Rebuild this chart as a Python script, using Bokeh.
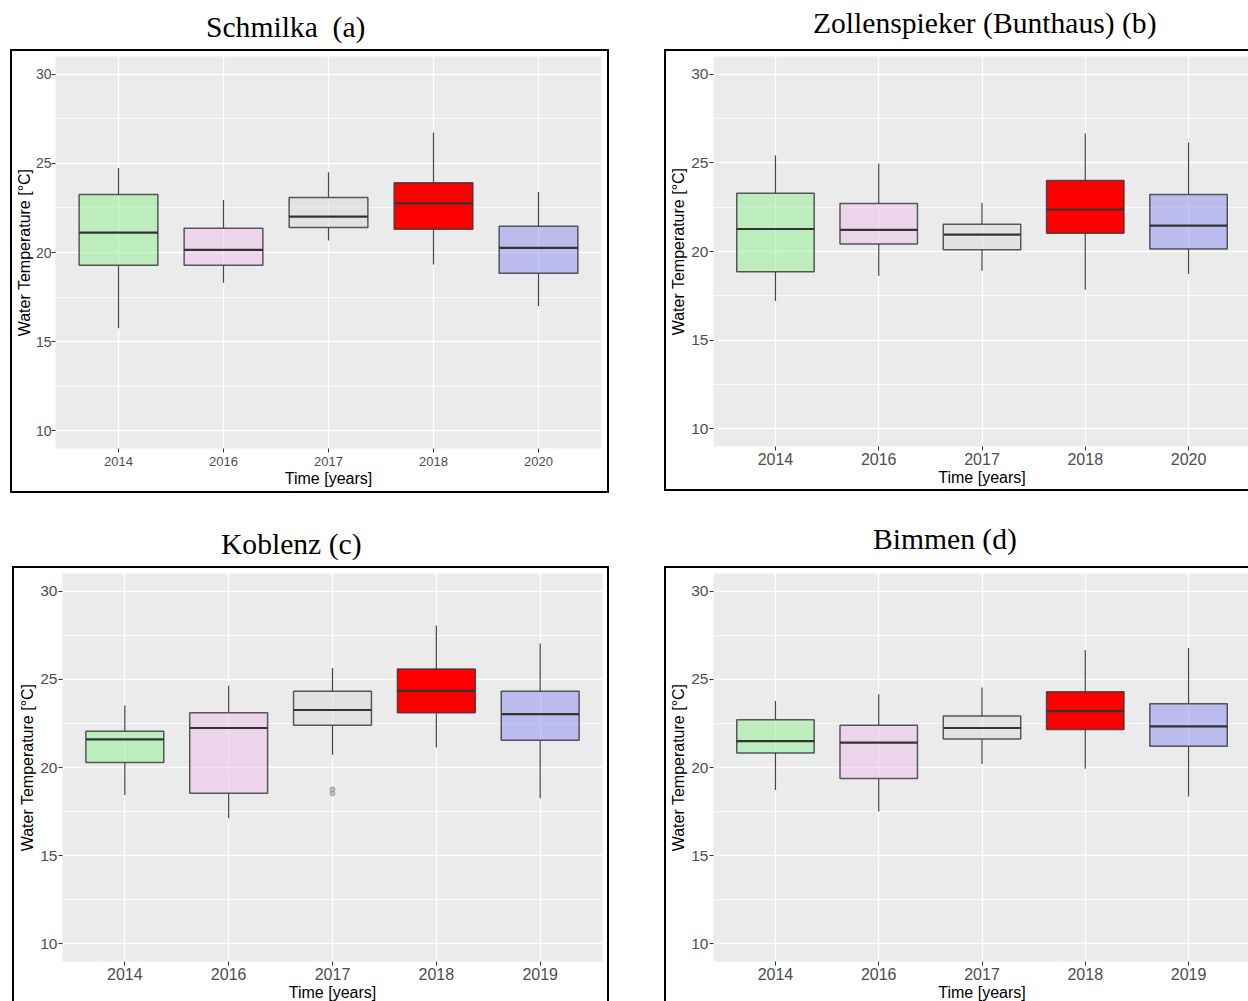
from bokeh.plotting import figure
from bokeh.layouts import column, row
from bokeh.models import Div, Spacer, FactorRange, Range1d, FixedTicker, ColumnDataSource
from bokeh.transform import dodge
from bokeh.embed import file_html
from bokeh.resources import INLINE

# ---------------- data ----------------
titles = ["Schmilka  (a)", "Zollenspieker (Bunthaus) (b)", "Koblenz (c)", "Bimmen (d)"]

a_years = ["2014", "2016", "2017", "2018", "2020"]
a_lower = [15.75, 18.30, 20.67, 19.33, 17.00]
a_q1 = [19.29, 19.29, 21.40, 21.31, 18.84]
a_med = [21.12, 20.15, 22.01, 22.76, 20.26]
a_q3 = [23.25, 21.36, 23.08, 23.92, 21.47]
a_upper = [24.74, 22.95, 24.51, 26.74, 23.40]

b_years = ["2014", "2016", "2017", "2018", "2020"]
b_lower = [17.21, 18.63, 18.91, 17.84, 18.73]
b_q1 = [18.86, 20.42, 20.10, 21.03, 20.14]
b_med = [21.27, 21.22, 20.95, 22.37, 21.46]
b_q3 = [23.28, 22.71, 21.54, 24.01, 23.22]
b_upper = [25.41, 24.96, 22.75, 26.66, 26.15]

c_years = ["2014", "2016", "2017", "2018", "2019"]
c_lower = [18.44, 17.12, 20.73, 21.14, 18.25]
c_q1 = [20.29, 18.54, 22.39, 23.11, 21.54]
c_med = [21.60, 22.24, 23.26, 24.35, 23.03]
c_q3 = [22.05, 23.11, 24.33, 25.58, 24.33]
c_upper = [23.52, 24.64, 25.64, 28.05, 27.03]
c_out_years = ["2017", "2017"]
c_out_vals = [18.53, 18.76]

d_years = ["2014", "2016", "2017", "2018", "2019"]
d_lower = [18.73, 17.50, 20.20, 19.93, 18.35]
d_q1 = [20.82, 19.37, 21.61, 22.16, 21.20]
d_med = [21.50, 21.41, 22.24, 23.20, 22.33]
d_q3 = [22.71, 22.39, 22.92, 24.30, 23.62]
d_upper = [23.77, 24.16, 24.54, 26.66, 26.77]

y_ticks = [10, 15, 20, 25, 30]
y_minor = [12.5, 17.5, 22.5, 27.5]

# ---------------- styles ----------------
box_colors = ["#90EE90", "#EDBFEB", "#D9D9D9", "#FF0000", "#8C8CF0"]
box_alphas = [0.5, 0.5, 0.5, 1.0, 0.5]
SANS = "Liberation Sans"
SERIF = "Liberation Serif"


def make_panel(years, lower, q1, med, q3, upper, w, h, mb, border, xfs, yfs,
               ylab_standoff, xlab_standoff, out_x=None, out_y=None):
    p = figure(width=w, height=h,
               x_range=FactorRange(factors=years, range_padding=0.1,
                                   range_padding_units="absolute"),
               y_range=Range1d(9, 31),
               output_backend="svg", toolbar_location=None,
               min_border_left=mb[0], min_border_right=mb[1],
               min_border_top=mb[2], min_border_bottom=mb[3])
    p.styles = border
    p.background_fill_color = "#EBEBEB"
    p.border_fill_color = "white"
    p.outline_line_color = None

    p.yaxis.ticker = FixedTicker(ticks=y_ticks, minor_ticks=y_minor)
    p.ygrid.ticker = FixedTicker(ticks=y_ticks, minor_ticks=y_minor)
    for g in (p.xgrid, p.ygrid):
        g.grid_line_color = "white"
        g.grid_line_width = 1.3
    p.ygrid.minor_grid_line_color = "white"
    p.ygrid.minor_grid_line_width = 0.7

    for ax in (p.xaxis, p.yaxis):
        ax.axis_line_color = None
        ax.major_tick_line_color = "#333333"
        ax.major_tick_in = 0
        ax.major_tick_out = 4
        ax.minor_tick_line_color = None
        ax.major_label_text_color = "#4D4D4D"
        ax.major_label_text_font = SANS
        ax.axis_label_text_font = SANS
        ax.axis_label_text_font_style = "normal"
        ax.axis_label_text_color = "black"
        ax.axis_label_text_font_size = "16px"
    p.xaxis.major_label_text_font_size = xfs
    p.yaxis.major_label_text_font_size = yfs
    p.xaxis.major_label_standoff = xlab_standoff
    p.yaxis.major_label_standoff = ylab_standoff
    p.xaxis.axis_label_standoff = 1
    p.yaxis.axis_label_standoff = ylab_standoff
    p.xaxis.axis_label = "Time [years]"
    p.yaxis.axis_label = "Water Temperature [°C]"

    src = ColumnDataSource(dict(years=years, lower=lower, q1=q1, med=med, q3=q3,
                                upper=upper, color=box_colors[:len(years)],
                                alpha=box_alphas[:len(years)]))
    p.segment(x0="years", y0="q3", x1="years", y1="upper", source=src,
              line_color="#333333", line_alpha=0.9, line_width=1.2)
    p.segment(x0="years", y0="lower", x1="years", y1="q1", source=src,
              line_color="#333333", line_alpha=0.9, line_width=1.2)
    p.vbar(x="years", top="q3", bottom="q1", width=0.75, source=src,
           fill_color="color", fill_alpha="alpha",
           line_color="#333333", line_alpha=0.8, line_width=1.5)
    p.segment(x0=dodge("years", -0.375, range=p.x_range), y0="med",
              x1=dodge("years", 0.375, range=p.x_range), y1="med", source=src,
              line_color="#333333", line_width=2.2)
    if out_x is not None:
        p.scatter(x=out_x, y=out_y, size=5, fill_color="#888888", fill_alpha=0.5,
                  line_color="#888888", line_alpha=0.6)
    return p


full = {"border": "2px solid black"}
no_right = {"border-top": "2px solid black", "border-bottom": "2px solid black",
            "border-left": "2px solid black"}
no_bottom = {"border-top": "2px solid black", "border-left": "2px solid black",
             "border-right": "2px solid black"}
top_left = {"border-top": "2px solid black", "border-left": "2px solid black"}

pa = make_panel(a_years, a_lower, a_q1, a_med, a_q3, a_upper, 599, 444,
                (43, 10, 5, 45), full, "13px", "14px", 0, 4)
pb = make_panel(b_years, b_lower, b_q1, b_med, b_q3, b_upper, 584, 442,
                (47, 0, 5, 47), no_right, "16px", "15.5px", 1, 2)
pc = make_panel(c_years, c_lower, c_q1, c_med, c_q3, c_upper, 597, 435,
                (48, 9, 5, 40), no_bottom, "16px", "15.5px", 1, 2,
                out_x=c_out_years, out_y=c_out_vals)
pd = make_panel(d_years, d_lower, d_q1, d_med, d_q3, d_upper, 584, 435,
                (47, 0, 5, 40), top_left, "16px", "15.5px", 1, 2)


def title_div(txt, w, h, left, top):
    html = ('<div style="font-family:\'%s\'; font-size:29.6px; line-height:30px; '
            'padding-left:%dpx; padding-top:%dpx; white-space:pre; color:black;">%s</div>'
            % (SERIF, left, top, txt))
    return Div(text=html, width=w, height=h, margin=0)


top_titles = row(title_div(titles[0], 664, 49, 206, 12),
                 title_div(titles[1], 584, 49, 149, 8))
top_plots = row(Spacer(width=10, height=444), pa, Spacer(width=55, height=444), pb)
mid_titles = row(title_div(titles[2], 664, 73, 221, 36),
                 title_div(titles[3], 584, 73, 209, 31))
bot_plots = row(Spacer(width=12, height=435), pc, Spacer(width=55, height=435), pd)

layout = column(top_titles, top_plots, mid_titles, bot_plots)

open("out.html", "w").write(file_html(layout, INLINE))
